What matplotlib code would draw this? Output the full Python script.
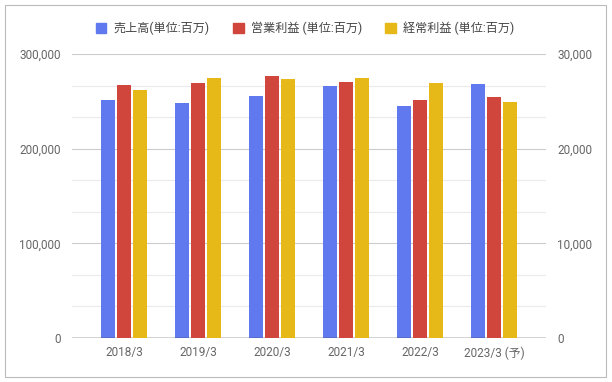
import matplotlib.pyplot as plt
import numpy as np
from matplotlib.patches import Patch, Rectangle
from matplotlib.ticker import FuncFormatter, MultipleLocator

plt.rcParams['font.family'] = ['Roboto', 'Noto Sans CJK JP', 'DejaVu Sans']

# data (単位:百万)
years = ['2018/3', '2019/3', '2020/3', '2021/3', '2022/3', '2023/3 (予)']
sales = [251400, 248200, 255600, 266200, 245100, 268300]
op_profit = [26720, 26940, 27680, 27040, 25140, 25460]
ord_profit = [26200, 27460, 27360, 27460, 26940, 24930]
labels = ['売上高(単位:百万)', '営業利益 (単位:百万)', '経常利益 (単位:百万)']
colors = ['#6079ef', '#d0463c', '#e6b818']

fig = plt.figure(figsize=(6.12, 3.82), dpi=100)
ax = fig.add_axes([72/612, 1 - 338/382, 474/612, 284/382])
ax2 = ax.twinx()

x = np.arange(len(years))
w = 0.19
step = 0.216
ax.bar(x - step, sales, w, color=colors[0], zorder=3)
ax2.bar(x, op_profit, w, color=colors[1], zorder=3)
ax2.bar(x + step, ord_profit, w, color=colors[2], zorder=3)

ax.set_xlim(-0.703, 5.703)
ax.set_ylim(0, 300000)
ax2.set_ylim(0, 30000)
ax.yaxis.set_major_locator(MultipleLocator(100000))
ax.yaxis.set_minor_locator(MultipleLocator(100000/3))
ax2.yaxis.set_major_locator(MultipleLocator(10000))
fmt = FuncFormatter(lambda v, p: f'{int(v):,}')
ax.yaxis.set_major_formatter(fmt)
ax2.yaxis.set_major_formatter(fmt)

ax.grid(axis='y', which='major', color='#cccccc', linewidth=0.8, zorder=0)
ax.grid(axis='y', which='minor', color='#ebebeb', linewidth=0.8, zorder=0)
ax.set_axisbelow(True)
ax2.set_zorder(ax.get_zorder() + 1)
ax2.patch.set_visible(False)

for a in (ax, ax2):
    for s in a.spines.values():
        s.set_visible(False)
    a.tick_params(length=0, labelsize=8.5, labelcolor='#666666')
ax.tick_params(axis='y', which='minor', length=0)
ax.tick_params(axis='y', pad=8)
ax2.tick_params(axis='y', pad=8)
ax.axhline(0, color='#333333', linewidth=1, zorder=4)

ax.set_xticks(x)
ax.set_xticklabels(years)
ax.tick_params(axis='x', pad=6)

handles = [Patch(color=c) for c in colors]
fig.legend(handles, labels, loc='center', bbox_to_anchor=(305/612, 1 - 28/382), ncol=3,
           frameon=False, fontsize=8.7, handlelength=0.9, handleheight=0.9,
           handletextpad=0.6, columnspacing=1.9, labelcolor='#444444')

fig.patches.append(Rectangle((5/612, 5/382), 601/612, 372/382, transform=fig.transFigure,
                             fill=False, edgecolor='#bbbbbb', linewidth=0.8))

fig.savefig('out.png', dpi=100)
